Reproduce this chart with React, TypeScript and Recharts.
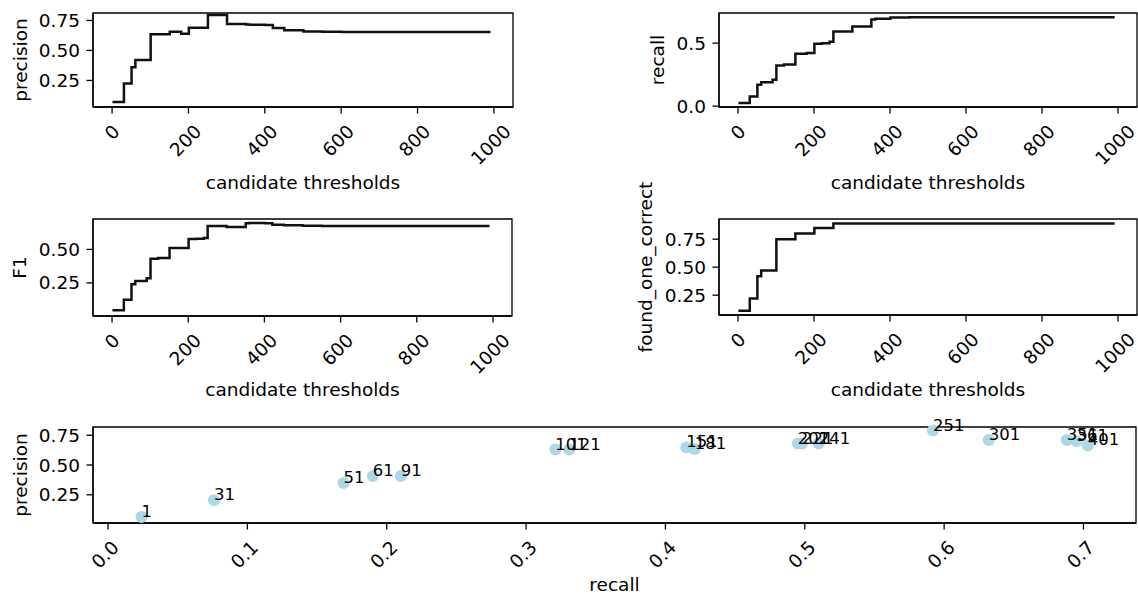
import React from 'react';
import { LineChart, Line, XAxis, YAxis, ScatterChart, Scatter, ReferenceArea } from 'recharts';

// ---------- data ----------
const thresholds = [1, 31, 51, 61, 91, 101, 121, 151, 181, 201, 221, 241, 251, 301, 351, 361, 401, 421, 451, 501, 551, 601, 991];
const precisionVals = [0.07, 0.225, 0.36, 0.42, 0.42, 0.635, 0.635, 0.655, 0.64, 0.69, 0.69, 0.69, 0.795, 0.72, 0.716, 0.715, 0.712, 0.686, 0.668, 0.658, 0.655, 0.653, 0.653];
const recallVals = [0.025, 0.077, 0.17, 0.19, 0.21, 0.322, 0.331, 0.415, 0.422, 0.495, 0.498, 0.51, 0.592, 0.632, 0.688, 0.694, 0.703, 0.704, 0.705, 0.705, 0.705, 0.705, 0.705];
const f1Vals = [0.045, 0.125, 0.24, 0.265, 0.285, 0.43, 0.435, 0.51, 0.51, 0.578, 0.58, 0.585, 0.675, 0.668, 0.695, 0.697, 0.695, 0.685, 0.68, 0.677, 0.675, 0.674, 0.674];
const foundVals = [0.11, 0.22, 0.42, 0.47, 0.47, 0.75, 0.75, 0.8, 0.8, 0.85, 0.85, 0.85, 0.89, 0.89, 0.89, 0.89, 0.89, 0.89, 0.89, 0.89, 0.89, 0.89, 0.89];

const scatterLabels = ['1', '31', '51', '61', '91', '101', '121', '151', '181', '201', '221', '241', '251', '301', '351', '361', '401'];
const scatterRecall = [0.024, 0.076, 0.169, 0.19, 0.21, 0.321, 0.331, 0.415, 0.421, 0.495, 0.498, 0.51, 0.592, 0.632, 0.688, 0.695, 0.703];
const scatterPrecision = [0.064, 0.205, 0.35, 0.408, 0.408, 0.63, 0.63, 0.648, 0.635, 0.68, 0.68, 0.68, 0.79, 0.71, 0.71, 0.7, 0.665];

const thresholdTicks = [0, 200, 400, 600, 800, 1000];
const recallTicks = [0, 0.1, 0.2, 0.3, 0.4, 0.5, 0.6, 0.7];
const quarterTicks = [0.25, 0.5, 0.75];
const recallYTicks = [0, 0.5];
const f1Ticks = [0.25, 0.5];

const lineData = thresholds.map((t, i) => ({
  t,
  precision: precisionVals[i],
  recall: recallVals[i],
  f1: f1Vals[i],
  found: foundVals[i],
}));
const scatterData = scatterLabels.map((label, i) => ({
  label,
  recall: scatterRecall[i],
  precision: scatterPrecision[i],
}));

// ---------- styling ----------
const FONT = '"DejaVu Sans", sans-serif';
const INK = '#000';
const FS = 18.5;
const AXW = 1.3;
const TICK = 6.5;

const fmt2 = (v: number) => v.toFixed(2);
const fmt1 = (v: number) => v.toFixed(1);
const fmt0 = (v: number) => String(v);

function XTick(props: any) {
  const { x, y, payload, fmt } = props;
  const label = fmt(payload.value);
  let w = 0;
  for (const ch of label) w += ch === '.' ? 0.318 : 0.636;
  w *= FS;
  const h = 13;
  const cx = label.length > 1 ? x - 3 : x;
  const cy = y + 10 + (w + h) / (2 * Math.SQRT2);
  return (
    <text x={cx} y={cy} textAnchor="middle" dominantBaseline="central"
      transform={`rotate(-45 ${cx} ${cy})`} fontSize={FS} fontFamily={FONT} fill={INK}>
      {label}
    </text>
  );
}

function YTick(props: any) {
  const { x, y, payload, fmt } = props;
  return (
    <text x={x} y={y} textAnchor="end" dominantBaseline="central" fontSize={FS} fontFamily={FONT} fill={INK}>
      {fmt(payload.value)}
    </text>
  );
}

type Box = { x: number; y: number; w: number; h: number };

const LEFT = 92;
const TOP = 30;
const BOTTOM = 90;
const RIGHT = 30;

const thrDomain: [number, number] = [-50, 1050];

function frame(xDom: [number, number], yDom: [number, number]) {
  return (
    <ReferenceArea x1={xDom[0]} x2={xDom[1]} y1={yDom[0]} y2={yDom[1]} fill="none" fillOpacity={0}
      stroke={INK} strokeWidth={AXW} ifOverflow="visible" />
  );
}

function StepPanel({ box, dataKey, yDomain, yTicks, yFmt }: {
  box: Box; dataKey: string; yDomain: [number, number]; yTicks: number[]; yFmt: (v: number) => string;
}) {
  const W = LEFT + box.w + RIGHT;
  const H = TOP + box.h + BOTTOM;
  return (
    <div style={{ position: 'absolute', left: box.x - LEFT, top: box.y - TOP }}>
      <LineChart width={W} height={H} data={lineData} margin={{ top: TOP, right: RIGHT, bottom: 0, left: 0 }}>
        <XAxis type="number" dataKey="t" domain={thrDomain} ticks={thresholdTicks} allowDataOverflow interval={0}
          height={BOTTOM} tickSize={TICK} tickMargin={0}
          tick={(p: any) => <XTick {...p} fmt={fmt0} />}
          tickLine={{ stroke: INK, strokeWidth: AXW }} axisLine={{ stroke: INK, strokeWidth: AXW }} />
        <YAxis type="number" domain={yDomain} ticks={yTicks} allowDataOverflow interval={0}
          width={LEFT} tickSize={TICK} tickMargin={TICK}
          tick={(p: any) => <YTick {...p} fmt={yFmt} />}
          tickLine={{ stroke: INK, strokeWidth: AXW }} axisLine={{ stroke: INK, strokeWidth: AXW }} />
        <Line type="stepAfter" dataKey={dataKey} stroke="#111" strokeWidth={2.5} dot={false}
          isAnimationActive={false} />
        {frame(thrDomain, yDomain)}
      </LineChart>
    </div>
  );
}

const boxPrecision: Box = { x: 93, y: 13, w: 420, h: 94 };
const boxRecall: Box = { x: 719, y: 13, w: 418, h: 94 };
const boxF1: Box = { x: 93, y: 219, w: 419, h: 97 };
const boxFound: Box = { x: 719, y: 219, w: 418, h: 96 };
const boxScatter: Box = { x: 93, y: 427, w: 1043, h: 96 };

const scatterXDomain: [number, number] = [-0.0108, 0.7377];
const scatterYDomain: [number, number] = [0.013, 0.8195];

const Dot = (p: any) => <circle cx={p.cx} cy={p.cy} r={6} fill="#add8e6" />;
const Tag = (p: any) => (
  <text x={p.cx} y={p.cy} fontSize={16.5} fontFamily={FONT} fill={INK}>{p.payload.label}</text>
);

function ScatterPanel() {
  const box = boxScatter;
  const W = LEFT + box.w + RIGHT;
  const H = TOP + box.h + 70;
  return (
    <div style={{ position: 'absolute', left: box.x - LEFT, top: box.y - TOP }}>
      <ScatterChart width={W} height={H} margin={{ top: TOP, right: RIGHT, bottom: 0, left: 0 }}>
        <XAxis type="number" dataKey="recall" domain={scatterXDomain} ticks={recallTicks} interval={0}
          height={70} tickSize={TICK} tickMargin={0}
          tick={(p: any) => <XTick {...p} fmt={fmt1} />}
          tickLine={{ stroke: INK, strokeWidth: AXW }} axisLine={{ stroke: INK, strokeWidth: AXW }} />
        <YAxis type="number" dataKey="precision" domain={scatterYDomain} ticks={quarterTicks} interval={0}
          width={LEFT} tickSize={TICK} tickMargin={TICK}
          tick={(p: any) => <YTick {...p} fmt={fmt2} />}
          tickLine={{ stroke: INK, strokeWidth: AXW }} axisLine={{ stroke: INK, strokeWidth: AXW }} />
        {frame(scatterXDomain, scatterYDomain)}
        <Scatter data={scatterData} shape={Dot} isAnimationActive={false} />
        <Scatter data={scatterData} shape={Tag} isAnimationActive={false} />
      </ScatterChart>
    </div>
  );
}

function Titles() {
  const xTitle = (box: Box, text: string, off: number) => (
    <text x={box.x + box.w / 2} y={box.y + box.h + off} textAnchor="middle" fontSize={FS} fontFamily={FONT} fill={INK}>{text}</text>
  );
  const yTitle = (box: Box, text: string, cx: number) => {
    const cy = box.y + box.h / 2;
    return (
      <text x={cx} y={cy} textAnchor="middle" dominantBaseline="central" transform={`rotate(-90 ${cx} ${cy})`}
        fontSize={FS} fontFamily={FONT} fill={INK}>{text}</text>
    );
  };
  return (
    <svg width={1138} height={594} style={{ position: 'absolute', left: 0, top: 0, pointerEvents: 'none' }}>
      {xTitle(boxPrecision, 'candidate thresholds', 82)}
      {xTitle(boxRecall, 'candidate thresholds', 82)}
      {xTitle(boxF1, 'candidate thresholds', 80)}
      {xTitle(boxFound, 'candidate thresholds', 81)}
      {xTitle(boxScatter, 'recall', 68)}
      {yTitle(boxPrecision, 'precision', 20)}
      {yTitle(boxRecall, 'recall', 657)}
      {yTitle(boxF1, 'F1', 19)}
      {yTitle(boxFound, 'found_one_correct', 645)}
      {yTitle(boxScatter, 'precision', 20)}
    </svg>
  );
}

export default function App() {
  return (
    <div style={{ position: 'absolute', left: 0, top: 0, width: 1138, height: 594, background: '#fff', overflow: 'hidden' }}>
      <StepPanel box={boxPrecision} dataKey="precision" yDomain={[0.0285, 0.812]} yTicks={quarterTicks} yFmt={fmt2} />
      <StepPanel box={boxRecall} dataKey="recall" yDomain={[-0.007, 0.739]} yTicks={recallYTicks} yFmt={fmt1} />
      <StepPanel box={boxF1} dataKey="f1" yDomain={[0.003, 0.727]} yTicks={f1Ticks} yFmt={fmt2} />
      <StepPanel box={boxFound} dataKey="found" yDomain={[0.073, 0.93]} yTicks={quarterTicks} yFmt={fmt2} />
      <ScatterPanel />
      <Titles />
    </div>
  );
}
